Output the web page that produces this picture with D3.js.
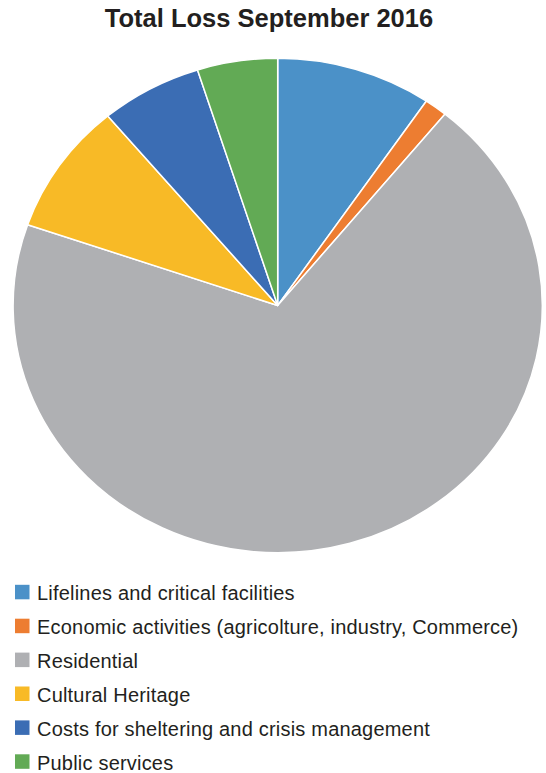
<!DOCTYPE html>
<html>
<head>
<meta charset="utf-8">
<script src="https://cdn.jsdelivr.net/npm/d3@7"></script>
<style>
  html, body { margin: 0; padding: 0; background: #fff; }
  svg { display: block; }
</style>
</head>
<body>
<svg id="chart" width="546" height="773"></svg>
<script>
// Share of total loss by category (%)
const categories = [
  "Lifelines and critical facilities",
  "Economic activities (agricolture, industry, Commerce)",
  "Residential",
  "Cultural Heritage",
  "Costs for sheltering and crisis management",
  "Public services"
];
const values = [9.5, 1.4, 69.4, 8.6, 6.2, 4.9];
const colors = ["#4B91C8", "#ED7D31", "#AFB0B3", "#F8BA26", "#3B6DB4", "#62AA55"];
const title = "Total Loss September 2016";

const svg = d3.select("#chart");
const textColor = "#231F20";

// Title
svg.append("text")
  .attr("x", 269)
  .attr("y", 26.7)
  .attr("text-anchor", "middle")
  .attr("font-family", "Liberation Sans, Arial, sans-serif")
  .attr("font-weight", "bold")
  .attr("font-size", 25.5)
  .attr("fill", textColor)
  .text(title);

// Pie (slightly flattened vertically)
const cx = 277.7, cy = 305.5, rx = 264.6, ry = 247.2;
const pie = d3.pie().sort(null).value(d => d)(values);
const arc = d3.arc().innerRadius(0).outerRadius(rx);

const g = svg.append("g")
  .attr("transform", `translate(${cx},${cy}) scale(1,${ry / rx})`);

g.selectAll("path")
  .data(pie)
  .join("path")
  .attr("d", arc)
  .attr("fill", (d, i) => colors[i])
  .attr("stroke", "#fff")
  .attr("stroke-width", 1.5)
  .attr("vector-effect", "non-scaling-stroke")
  .attr("stroke-linejoin", "round");

// Legend
const legendY = d3.scalePoint()
  .domain(categories)
  .range([592, 761.5])
  .padding(0);

const legend = svg.append("g");
const items = legend.selectAll("g")
  .data(categories)
  .join("g")
  .attr("transform", d => `translate(0,${legendY(d)})`);

items.append("rect")
  .attr("x", 15)
  .attr("y", -7.2)
  .attr("width", 14.5)
  .attr("height", 14.5)
  .attr("fill", (d, i) => colors[i]);

items.append("text")
  .attr("x", 37)
  .attr("y", 8)
  .attr("font-family", "Liberation Sans, Arial, sans-serif")
  .attr("font-size", 20)
  .attr("letter-spacing", 0.2)
  .attr("fill", textColor)
  .text(d => d);
</script>
</body>
</html>
